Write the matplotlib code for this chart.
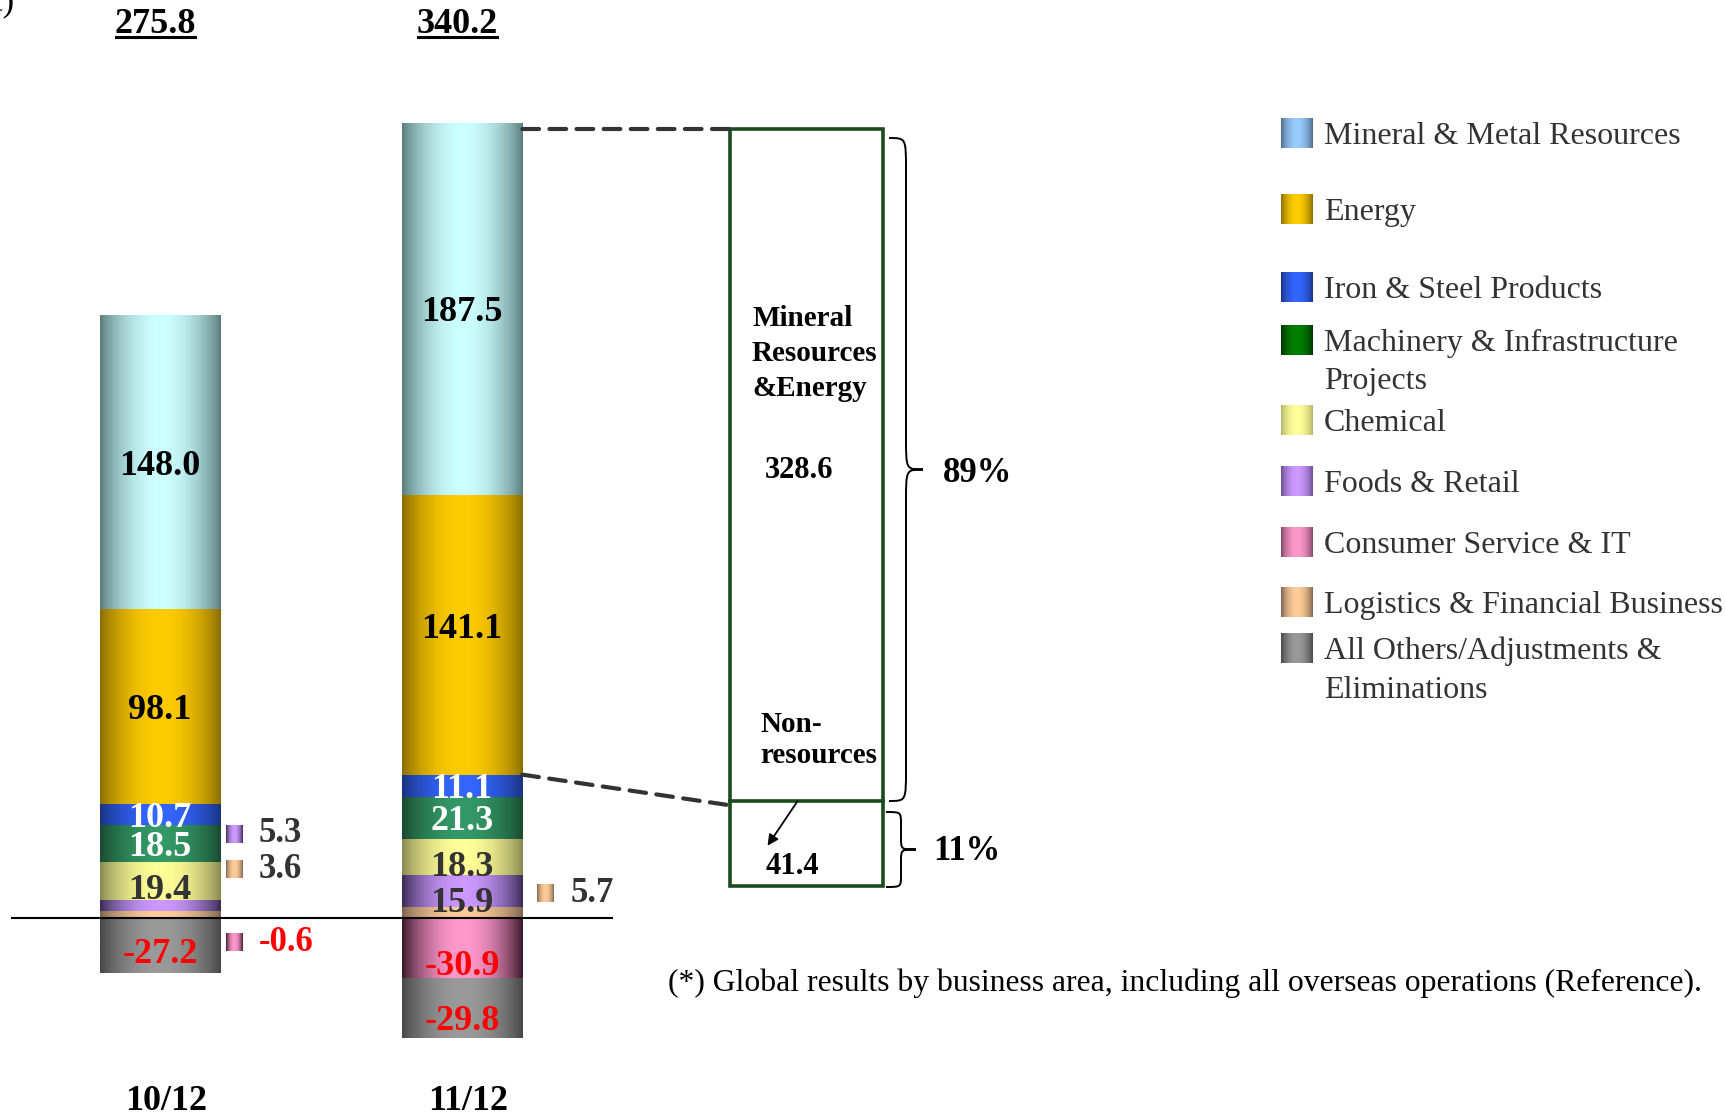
import numpy as np
import matplotlib.pyplot as plt
from matplotlib.colors import to_rgb
from matplotlib.patches import Rectangle, ConnectionPatch, PathPatch
from matplotlib.path import Path

plt.rcParams['font.family'] = ['Liberation Serif', 'DejaVu Serif']

# --- data (billion yen) ---
periods = ['10/12', '11/12']
mineral = [148.0, 187.5]
energy = [98.1, 141.1]
iron = [10.7, 11.1]
machinery = [18.5, 21.3]
chemical = [19.4, 18.3]
foods = [5.3, 15.9]
consumer = [-0.6, -30.9]
logistics = [3.6, 5.7]
others = [-27.2, -29.8]

legend_names = ['Mineral & Metal Resources', 'Energy', 'Iron & Steel Products',
                'Machinery & Infrastructure\nProjects', 'Chemical', 'Foods & Retail',
                'Consumer Service & IT', 'Logistics & Financial Business',
                'All Others/Adjustments &\nEliminations']
footnote = '(*) Global results by business area, including all overseas operations (Reference).'

# (edge, centre) colours of the shaded fills
shade = {
    'mineral': ('#5C7E7E', '#CCFFFF'),
    'energy': ('#8A6E00', '#FFCC00'),
    'iron': ('#1A3382', '#3366FF'),
    'machinery': ('#1A4A30', '#339966'),
    'chemical': ('#8A8A52', '#FFFF99'),
    'foods': ('#3A2C55', '#CC99FF'),
    'consumer': ('#3A1A2A', '#FF99CC'),
    'logistics': ('#7F664F', '#FFCC99'),
    'others': ('#474747', '#9A9A9A'),
}
legend_shade = [('#4D6A88', '#99CCFF'), ('#8A6E00', '#FFCC00'), ('#1A3382', '#3366FF'),
                ('#003300', '#008000'), ('#B5B56A', '#FFFF99'), ('#6A4E92', '#CC99FF'),
                ('#7F4865', '#FF99CC'), ('#7F664F', '#FFCC99'), ('#474747', '#9A9A9A')]


def gradient(edge, centre, n=64):
    t = np.linspace(0, 1, n)
    prof = np.sin(np.pi * t) ** 0.8
    e = np.array(to_rgb(edge))
    c = np.array(to_rgb(centre))
    return (e + (c - e) * prof[:, None])[None, :, :]


def shade_rect(axis, x0, x1, y0, y1, colours, z=2):
    axis.imshow(gradient(*colours), extent=[x0, x1, min(y0, y1), max(y0, y1)],
                aspect='auto', interpolation='bilinear', zorder=z)


fig = plt.figure(figsize=(17.26, 11.15), dpi=100)
ax = fig.add_axes([11 / 1726, 1 - 1060 / 1115, 602 / 1726, 960 / 1115])
ax.axis('off')

x = np.arange(len(periods))
width = 0.4

pos_stack = [('logistics', logistics), ('foods', foods), ('chemical', chemical),
             ('machinery', machinery), ('iron', iron), ('energy', energy),
             ('mineral', mineral)]
neg_stack = [('consumer', consumer), ('others', others)]

bars = {}
for stack in (pos_stack, neg_stack):
    base = np.zeros(len(periods))
    for key, vals in stack:
        vals = np.array(vals)
        bc = ax.bar(x, vals, width, bottom=base, color='none', linewidth=0)
        for b in bc:
            shade_rect(ax, b.get_x(), b.get_x() + b.get_width(),
                       b.get_y(), b.get_y() + b.get_height(), shade[key])
        bars[key] = bc
        base = base + vals

ax.set_xlim(-0.493, 1.5)
ax.set_ylim(-71.6, 412.5)
ax.axhline(0, color='black', lw=1.5, zorder=5)

# values written inside the bars: (segment, nudge in points)
inside = {
    0: [('mineral', 0), ('energy', 0), ('iron', 0), ('machinery', 0),
        ('chemical', -4), ('others', -3)],
    1: [('mineral', 0), ('energy', 7), ('iron', 0), ('machinery', 0),
        ('chemical', -5), ('foods', -6), ('consumer', -10), ('others', -6)],
}
text_col = {'mineral': 'black', 'energy': 'black', 'iron': 'white', 'machinery': 'white',
            'chemical': '#333333', 'foods': '#333333', 'consumer': 'red', 'others': 'red'}
for i, keys in inside.items():
    for key, dy in keys:
        b = bars[key][i]
        val = b.get_height()
        yc = b.get_y() + val / 2
        ax.annotate(f'{val:.1f}', (b.get_x() + b.get_width() / 2, yc),
                    xytext=(0, dy), textcoords='offset points', ha='center',
                    va='center_baseline', fontsize=26, fontweight='bold',
                    color=text_col[key], zorder=6)

# small segments labelled beside the bar
callouts = [(0, 'foods', 42.4), (0, 'logistics', 24.7), (0, 'consumer', -12.1),
            (1, 'logistics', 12.6)]
for i, key, yy in callouts:
    b = bars[key][i]
    val = b.get_height()
    sx = b.get_x() + b.get_width() + (0.02 if i == 0 else 0.05)
    shade_rect(ax, sx, sx + 0.053, yy - 4.5, yy + 4.5, shade[key], z=6)
    ax.text(sx + 0.108, yy, f'{val:.1f}', ha='left', va='center', fontsize=25,
            fontweight='bold', color='red' if val < 0 else '#333333', zorder=6)

# totals and period labels
pos_tot = np.sum([v for _, v in pos_stack], axis=0)
neg_tot = np.sum([v for _, v in neg_stack], axis=0)
totals = pos_tot + neg_tot
tot_txt = []
for i in x:
    t = ax.text(i - 0.015, 450.8, f'{totals[i]:.1f}', ha='center', va='center',
                fontsize=26, fontweight='bold', clip_on=False)
    tot_txt.append(t)
    ax.text(i + 0.02, -92.3, periods[i], ha='center', va='center', fontsize=26,
            fontweight='bold', clip_on=False)

ax.set_xlim(-0.493, 1.5)
ax.set_ylim(-71.6, 412.5)

# overlay in pixel units for the annotation block and legend
ov = fig.add_axes([0, 0, 1, 1])
ov.set_xlim(0, 1726)
ov.set_ylim(1115, 0)
ov.axis('off')

ov.text(14, 10, '(Billion Yen, Net Result)', ha='right', va='baseline', fontsize=25)

# underline the totals
fig.canvas.draw()
inv = ov.transData.inverted()
for t in tot_txt:
    bb = t.get_window_extent()
    (xa, ya), (xb, yb) = inv.transform([(bb.x0, bb.y0), (bb.x1, bb.y0)])
    ov.plot([xa + 1, xb - 1], [ya - 4, yb - 4], color='black', lw=2.2)

# breakdown of the 11/12 result
res = mineral[1] + energy[1]
nonres = iron[1] + machinery[1] + chemical[1] + foods[1] + logistics[1] + consumer[1]
box_l, box_r, box_t, box_b = 730, 883, 129, 886
divider = box_b - (box_b - box_t) * nonres / (res + nonres)
ov.add_patch(Rectangle((box_l, box_t), box_r - box_l, box_b - box_t, fill=False,
                       edgecolor='#1B4A1E', lw=2.6))
ov.plot([box_l, box_r], [divider, divider], color='#1B4A1E', lw=2.6)

b2 = bars['mineral'][1]
right2 = b2.get_x() + b2.get_width()
top_line = ax.transData.inverted().transform(ov.transData.transform((0, box_t)))[1]
for ya, yb in [(top_line, box_t),
               (bars['iron'][1].get_y() + bars['iron'][1].get_height(), divider + 4)]:
    cp = ConnectionPatch((right2, ya), (box_l, yb), 'data', 'data', axesA=ax, axesB=ov,
                         color='#333333', lw=3, linestyle=(0, (4, 2.5)))
    ov.add_artist(cp)

ov.text(752, 305, 'Mineral\nResources\n&Energy', ha='left', va='top', fontsize=21,
        fontweight='bold', linespacing=1.38)
ov.text(765, 471, f'{res:.1f}', ha='left', va='center', fontsize=22, fontweight='bold')
ov.text(760, 711, 'Non-\nresources', ha='left', va='top', fontsize=21,
        fontweight='bold', linespacing=1.2)
ov.text(766, 866, f'{nonres:.1f}', ha='left', va='center', fontsize=22, fontweight='bold')
ov.annotate('', xy=(766, 848), xytext=(799, 799),
            arrowprops=dict(arrowstyle='-|>', color='black', lw=1.3, mutation_scale=16))


def brace(x0, y0, y1, w, r):
    h = w / 2
    ym = (y0 + y1) / 2
    verts = [(x0, y0), (x0 + h, y0), (x0 + h, y0), (x0 + h, y0 + r),
             (x0 + h, ym - r),
             (x0 + h, ym), (x0 + h, ym), (x0 + w, ym),
             (x0 + h, ym), (x0 + h, ym), (x0 + h, ym + r),
             (x0 + h, y1 - r),
             (x0 + h, y1), (x0 + h, y1), (x0, y1)]
    codes = [Path.MOVETO, Path.CURVE4, Path.CURVE4, Path.CURVE4, Path.LINETO,
             Path.CURVE4, Path.CURVE4, Path.CURVE4, Path.CURVE4, Path.CURVE4, Path.CURVE4,
             Path.LINETO, Path.CURVE4, Path.CURVE4, Path.CURVE4]
    ov.add_patch(PathPatch(Path(verts, codes), fill=False, lw=1.4, color='black'))


brace(889, 138, 801, 34, 32)
brace(886, 812, 887, 30, 12)
ov.text(943, 474, f'{res / (res + nonres) * 100:.0f}%', ha='left', va='center',
        fontsize=25, fontweight='bold')
ov.text(933, 852, f'{nonres / (res + nonres) * 100:.0f}%', ha='left', va='center',
        fontsize=25, fontweight='bold')

ov.text(668, 983, footnote, ha='left', va='center', fontsize=22.8)

# legend: one baseline per line of each entry
leg_y = [133, 209, 287, 340, 420, 481, 542, 602, 648]
for name, yy, cols in zip(legend_names, leg_y, legend_shade):
    shade_rect(ov, 1281, 1313, yy - 15, yy + 15, cols)
    for k, line in enumerate(name.split('\n')):
        ov.text(1324, yy + 11 + k * 38.5, line, ha='left', va='baseline', fontsize=23,
                color='#333333')

ov.set_xlim(0, 1726)
ov.set_ylim(1115, 0)

fig.savefig('out.png', dpi=100)
